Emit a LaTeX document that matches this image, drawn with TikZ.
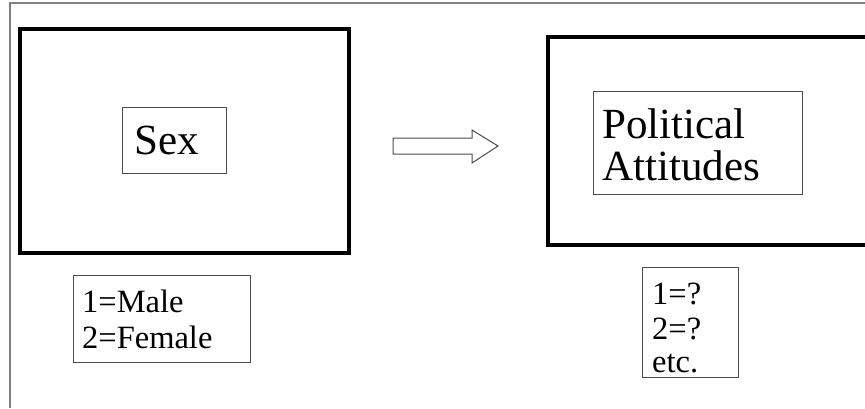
\documentclass[tikz,border=0pt]{standalone}
\usepackage{fontspec}
\setmainfont{Liberation Serif}
\begin{document}
\begin{tikzpicture}[x=1pt,y=-1pt,
 frame/.style={draw=black!50,line width=1.5pt},
 bigbox/.style={draw=black,line width=4pt,inner sep=0pt,anchor=north west},
 smallbox/.style={draw=black!70,line width=1pt,inner sep=0pt,anchor=north west},
 bigtext/.style={font=\fontsize{43}{44}\selectfont,inner sep=0pt,anchor=base west},
 smalltext/.style={font=\fontsize{32.5}{36}\selectfont,inner sep=0pt,anchor=base west},
 arrowshape/.style={draw=black!70,line width=1pt,line join=miter}]
\useasboundingbox (0,0) rectangle (865,408);
\draw[frame] (10,408) -- (10,3) -- (865,3);
% big boxes
\node[bigbox,minimum width=329pt,minimum height=224pt] (leftbig) at (18,27) {};
\node[bigbox,minimum width=340pt,minimum height=208pt] (rightbig) at (546,35) {};
% inner boxes
\node[smallbox,minimum width=104pt,minimum height=66pt] (sexbox) at (122,107) {};
\node[bigtext] (sextext) at (134,154) {Sex};
\node[smallbox,minimum width=209pt,minimum height=103pt] (polbox) at (593,91) {};
\node[bigtext] (pol1) at (602,138) {Political};
\node[bigtext] (pol2) at (602,180) {Attitudes};
% code boxes
\node[smallbox,minimum width=177pt,minimum height=87pt] (malebox) at (73,275) {};
\node[smalltext] (m1) at (82,312) {1=Male};
\node[smalltext] (m2) at (82,348) {2=Female};
\node[smallbox,minimum width=96pt,minimum height=110pt] (qbox) at (642,267) {};
\node[smalltext] (q1) at (652,304) {1=?};
\node[smalltext] (q2) at (652,339) {2=?};
\node[smalltext] (q3) at (652,372) {etc.};
% arrow
\draw[arrowshape] (393,138) -- (472,138) -- (472,130) -- (498,146) -- (472,163) -- (472,154) -- (393,154) -- cycle;
\end{tikzpicture}
\end{document}
